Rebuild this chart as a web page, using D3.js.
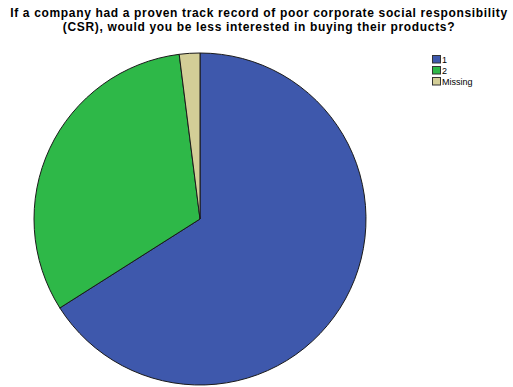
<!DOCTYPE html>
<html>
<head>
<meta charset="utf-8">
<script src="https://cdn.jsdelivr.net/npm/d3@7"></script>
<style>
  html, body { margin: 0; padding: 0; background: #fff; }
  svg { display: block; }
</style>
</head>
<body>
<svg id="chart" width="513" height="387"></svg>
<script>
// Response categories and their counts
const categories = ["1", "2", "Missing"];
const counts = [66, 32, 2];
const colors = ["#3e58ac", "#2eb848", "#d3ce97"];
const titleLines = [
  "If a company had a proven track record of poor corporate social responsibility",
  "(CSR), would you be less interested in buying their products?"
];

const svg = d3.select("#chart");
const cx = 200, cy = 219, r = 166;

// Title, two centred lines
svg.append("g")
  .selectAll("text")
  .data(titleLines)
  .join("text")
  .attr("x", 259)
  .attr("y", (d, i) => 17.3 + i * 13.4)
  .attr("text-anchor", "middle")
  .attr("font-family", "Liberation Sans, Arial, sans-serif")
  .attr("font-weight", "bold")
  .attr("font-size", 12)
  .attr("letter-spacing", 0.66)
  .attr("fill", "#000")
  .text(d => d);

// Pie, slices clockwise from 12 o'clock in category order
const data = categories.map((c, i) => ({ cat: c, value: counts[i], color: colors[i] }));
const pie = d3.pie().value(d => d.value).sort(null);
const arc = d3.arc().innerRadius(0).outerRadius(r);

svg.append("g")
  .attr("transform", `translate(${cx},${cy})`)
  .selectAll("path")
  .data(pie(data))
  .join("path")
  .attr("d", arc)
  .attr("fill", d => d.data.color)
  .attr("stroke", "#1a1a1a")
  .attr("stroke-width", 1)
  .attr("stroke-linejoin", "round");

// Legend
const legend = svg.append("g").attr("transform", "translate(432,55)");
const rows = legend.selectAll("g")
  .data(data)
  .join("g")
  .attr("transform", (d, i) => `translate(0,${i * 11})`);
rows.append("rect")
  .attr("x", 0.5).attr("y", 0.5)
  .attr("width", 8).attr("height", 7.5)
  .attr("fill", d => d.color)
  .attr("stroke", "#333")
  .attr("stroke-width", 1);
rows.append("text")
  .attr("x", 10)
  .attr("y", 7.5)
  .attr("font-family", "Liberation Sans, Arial, sans-serif")
  .attr("font-size", 9)
  .attr("fill", "#000")
  .text(d => d.cat);
</script>
</body>
</html>
